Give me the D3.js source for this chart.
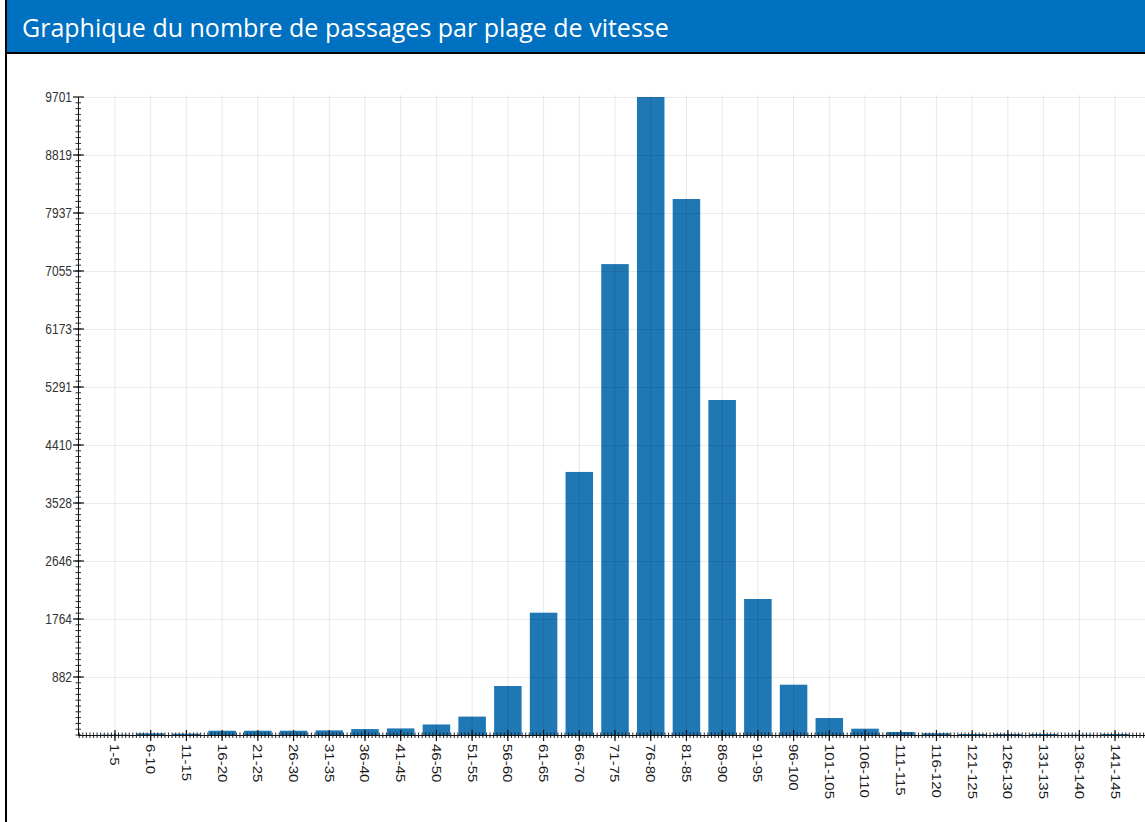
<!DOCTYPE html>
<html>
<head>
<meta charset="utf-8">
<script src="https://cdn.jsdelivr.net/npm/d3@7"></script>
<style>
  html, body { margin: 0; padding: 0; background: #fff; overflow: hidden; }
  svg { display: block; }
</style>
</head>
<body>
<div id="chart"></div>
<script>
// speed ranges (km/h)
const categories = ["1-5", "6-10", "11-15", "16-20", "21-25", "26-30", "31-35", "36-40",
    "41-45", "46-50", "51-55", "56-60", "61-65", "66-70", "71-75", "76-80", "81-85",
    "86-90", "91-95", "96-100", "101-105", "106-110", "111-115", "116-120", "121-125",
    "126-130", "131-135", "136-140", "141-145"];

// number of passages per range
const passages = [5, 25, 20, 65, 65, 65, 70, 90,
    100, 160, 280, 745, 1860, 4000, 7160, 9701, 8150,
    5094, 2068, 765, 258, 96, 46, 26, 15,
    15, 15, 5, 15];

const title = "Graphique du nombre de passages par plage de vitesse";

const width = 1145, height = 822;
const margins = { left: 78, top: 97, bottom: 87, right: -7 };

const svg = d3.select("#chart").append("svg")
    .attr("width", width)
    .attr("height", height);

// header band
svg.append("rect")
    .attr("x", 7).attr("y", 0)
    .attr("width", width - 7).attr("height", 52)
    .attr("fill", "#0070c0");
svg.append("line")
    .attr("x1", 7).attr("x2", width).attr("y1", 53).attr("y2", 53)
    .attr("stroke", "#000").attr("stroke-width", 2);
svg.append("line")
    .attr("x1", 6).attr("x2", 6).attr("y1", 0).attr("y2", height)
    .attr("stroke", "#000").attr("stroke-width", 2);
svg.append("text")
    .attr("x", 22).attr("y", 37)
    .attr("fill", "#fff")
    .attr("font-family", "'Open Sans', sans-serif")
    .attr("font-size", 25)
    .text(title);

const baseY = height - margins.bottom;
const maxVal = d3.max(passages);

const x = d3.scaleBand()
    .domain(categories)
    .range([margins.left, width - margins.right])
    .paddingInner(0.23)
    .paddingOuter(0.65);

const y = d3.scaleLinear()
    .domain([0, maxVal])
    .range([baseY, margins.top]);

// the y ticks divide the maximum in 11 equal steps
const yTicks = d3.range(1, 12).map(i => maxVal * i / 11);

const plot = svg.append("g");

// bars
plot.selectAll("rect.bar")
    .data(categories)
    .join("rect")
    .attr("class", "bar")
    .attr("x", d => x(d))
    .attr("width", x.bandwidth())
    .attr("y", (d, i) => y(passages[i]))
    .attr("height", (d, i) => baseY - y(passages[i]))
    .attr("fill", "#1f77b4");

// grid drawn over the bars, semi transparent
const grid = svg.append("g")
    .attr("stroke", "rgba(0,0,0,0.08)")
    .attr("stroke-width", 1.2);

grid.selectAll("line.h")
    .data(yTicks)
    .join("line")
    .attr("x1", margins.left).attr("x2", width)
    .attr("y1", d => Math.round(y(d)) + 0.5)
    .attr("y2", d => Math.round(y(d)) + 0.5);

grid.selectAll("line.v")
    .data(categories)
    .join("line")
    .attr("x1", d => x(d) + x.bandwidth() / 2)
    .attr("x2", d => x(d) + x.bandwidth() / 2)
    .attr("y1", margins.top - 2)
    .attr("y2", baseY);

// y axis
const yAxis = svg.append("g").attr("stroke", "#111");
yAxis.append("line")
    .attr("x1", margins.left + 0.5).attr("x2", margins.left + 0.5)
    .attr("y1", margins.top).attr("y2", baseY);

const yMinor = d3.range(0, 110).map(i => maxVal * i / 110);
yAxis.selectAll("line.minor")
    .data(yMinor)
    .join("line")
    .attr("x1", margins.left - 2.5).attr("x2", margins.left + 3)
    .attr("y1", d => y(d)).attr("y2", d => y(d))
    .attr("stroke-width", 0.9);

yAxis.selectAll("line.major")
    .data(yTicks)
    .join("line")
    .attr("x1", margins.left - 5).attr("x2", margins.left + 6)
    .attr("y1", d => y(d)).attr("y2", d => y(d))
    .attr("stroke-width", 1.2);

svg.append("g")
    .selectAll("text")
    .data(yTicks)
    .join("text")
    .attr("transform", d => `translate(${margins.left - 6},${y(d)}) scale(0.8,1)`)
    .attr("dy", "0.35em")
    .attr("text-anchor", "end")
    .attr("font-family", "'Liberation Sans', Arial, sans-serif")
    .attr("font-size", 15)
    .attr("fill", "#333")
    .text(d => Math.round(d));

// x axis
const xAxis = svg.append("g").attr("stroke", "#111");
xAxis.append("line")
    .attr("x1", margins.left).attr("x2", width)
    .attr("y1", baseY + 0.5).attr("y2", baseY + 0.5);

const step = x.step();
const firstCenter = x(categories[0]) + x.bandwidth() / 2;
const xMinor = d3.range(-10, 300).map(i => firstCenter + i * step / 10)
    .filter(v => v >= margins.left && v <= width);
xAxis.selectAll("line.minor")
    .data(xMinor)
    .join("line")
    .attr("x1", d => d).attr("x2", d => d)
    .attr("y1", baseY - 2.5).attr("y2", baseY + 3)
    .attr("stroke-width", 0.9);

xAxis.selectAll("line.major")
    .data(categories)
    .join("line")
    .attr("x1", d => x(d) + x.bandwidth() / 2)
    .attr("x2", d => x(d) + x.bandwidth() / 2)
    .attr("y1", baseY - 5).attr("y2", baseY + 6)
    .attr("stroke-width", 1.2);

svg.append("g")
    .selectAll("text")
    .data(categories)
    .join("text")
    .attr("transform", d => `translate(${x(d) + x.bandwidth() / 2},${baseY + 9}) rotate(90) scale(1,0.86)`)
    .attr("dy", "0.35em")
    .attr("text-anchor", "start")
    .attr("font-family", "'Liberation Sans', Arial, sans-serif")
    .attr("font-size", 15)
    .attr("fill", "#1a1a1a")
    .text(d => d);
</script>
</body>
</html>
